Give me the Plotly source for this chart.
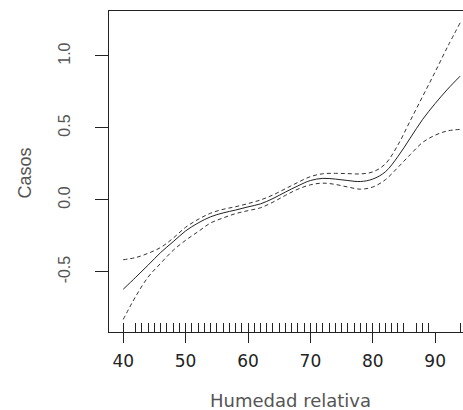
import plotly.graph_objects as go

# Humedad relativa grid and smooth estimate with confidence limits
humedad = [40, 42, 44, 46, 48, 50, 52, 54, 56, 58, 60, 62, 64, 66, 68,
           70, 72, 74, 76, 78, 80, 82, 84, 86, 88, 90, 92, 94]
ajuste = [-0.62, -0.537, -0.452, -0.365, -0.29, -0.215, -0.16, -0.117, -0.09, -0.07,
          -0.048, -0.027, 0.01, 0.055, 0.098, 0.135, 0.15, 0.145, 0.135, 0.128,
          0.145, 0.195, 0.30, 0.43, 0.56, 0.67, 0.77, 0.86]
superior = [-0.415, -0.40, -0.37, -0.33, -0.265, -0.19, -0.135, -0.092, -0.065, -0.047,
            -0.025, 0.0, 0.035, 0.078, 0.122, 0.162, 0.182, 0.185, 0.183, 0.181,
            0.195, 0.25, 0.38, 0.55, 0.72, 0.89, 1.065, 1.23]
inferior = [-0.83, -0.67, -0.535, -0.44, -0.35, -0.28, -0.22, -0.16, -0.125, -0.095,
            -0.074, -0.054, -0.015, 0.032, 0.075, 0.105, 0.117, 0.108, 0.09, 0.075,
            0.09, 0.14, 0.225, 0.315, 0.40, 0.45, 0.48, 0.49]

# Rug of observed values
rug = [40] + list(range(42, 86)) + [87, 88, 89, 94]

x_ticks = [40, 50, 60, 70, 80, 90]
y_ticks = [-0.5, 0.0, 0.5, 1.0]
y_ticktext = ["-0.5", "0.0", "0.5", "1.0"]

x_range = [37.72, 94.46]
y_range = [-0.917, 1.3125]

fig = go.Figure()
fig.add_trace(go.Scatter(x=humedad, y=superior, mode="lines",
                         line=dict(color="#333", width=1, dash="4px,3px", shape="spline"),
                         showlegend=False, hoverinfo="skip"))
fig.add_trace(go.Scatter(x=humedad, y=inferior, mode="lines",
                         line=dict(color="#333", width=1, dash="4px,3px", shape="spline"),
                         showlegend=False, hoverinfo="skip"))
fig.add_trace(go.Scatter(x=humedad, y=ajuste, mode="lines",
                         line=dict(color="#222", width=1, shape="spline"),
                         showlegend=False, hoverinfo="skip"))
# invisible trace to activate rug axis
fig.add_trace(go.Scatter(x=[rug[0]], y=[ajuste[0]], xaxis="x2", mode="markers",
                         marker=dict(opacity=0), showlegend=False, hoverinfo="skip"))

fig.update_layout(
    width=463, height=410,
    margin=dict(l=109, r=0, t=11, b=78),
    paper_bgcolor="white", plot_bgcolor="white",
    xaxis=dict(range=x_range, tickvals=x_ticks, showgrid=False, zeroline=False,
               showline=True, linecolor="#222", linewidth=1, mirror=True,
               ticks="outside", ticklen=10, tickwidth=1, tickcolor="#222",
               ticklabelstandoff=4,
               tickfont=dict(family="DejaVu Sans", size=17, color="#222")),
    xaxis2=dict(range=x_range, overlaying="x", anchor="y", side="bottom",
                tickvals=rug, ticks="inside", ticklen=9, tickwidth=1, tickcolor="#222",
                showticklabels=False, showgrid=False, zeroline=False, showline=False),
    yaxis=dict(range=y_range, tickvals=y_ticks, ticktext=y_ticktext, showgrid=False,
               zeroline=False, showline=True, linecolor="#222", linewidth=1, mirror=False,
               ticks="outside", ticklen=13, tickwidth=1, tickcolor="#222", tickangle=-90,
               ticklabelstandoff=19,
               tickfont=dict(family="Liberation Sans", size=16, color="#555")),
    annotations=[
        dict(text="Humedad relativa", xref="paper", yref="paper", x=0.5127, y=-0.212,
             xanchor="center", yanchor="middle", showarrow=False,
             font=dict(family="DejaVu Sans", size=18, color="#555")),
        dict(text="Casos", xref="paper", yref="paper", x=-0.236, y=0.495,
             xanchor="center", yanchor="middle", showarrow=False, textangle=-90,
             font=dict(family="Liberation Sans", size=18, color="#555")),
    ],
)

fig.write_html("out.html",
               config={"displayModeBar": False},
               post_script="document.body.style.margin='0';document.body.style.overflow='hidden';")
